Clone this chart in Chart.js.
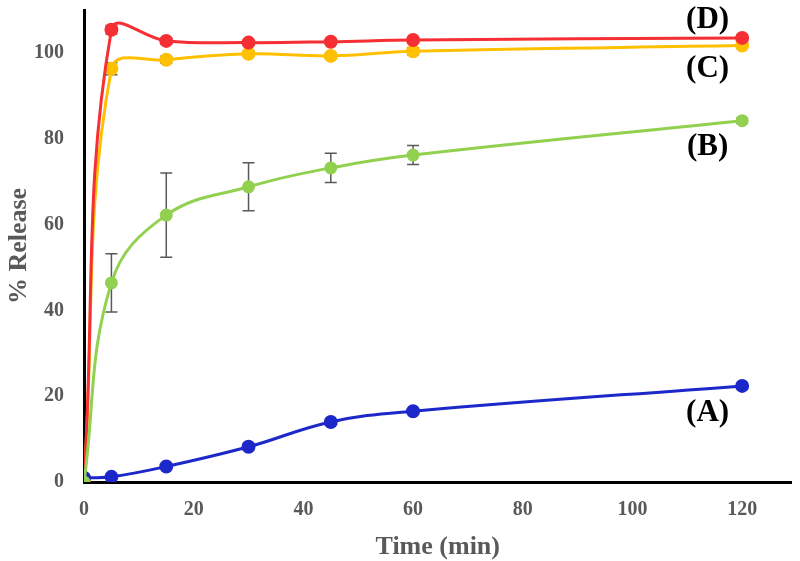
<!DOCTYPE html>
<html>
<head>
<meta charset="utf-8">
<script src="https://cdn.jsdelivr.net/npm/chart.js@4"></script>
<style>
  html, body { margin: 0; padding: 0; background: #fff; overflow: hidden; }
  #wrap { width: 800px; height: 561px; }
  canvas { display: block; }
</style>
</head>
<body>
<div id="wrap"><canvas id="releaseChart"></canvas></div>
<script>
// tempos de coleta (min)
const times = [0, 5, 15, 30, 45, 60, 120];

// % liberada por formulação
const seriesA = [1.0, 1.2, 3.6, 8.2, 14.0, 16.5, 22.4];
const seriesB = [0, 46.4, 62.2, 68.8, 73.2, 76.2, 84.2];
const seriesC = [0, 96.3, 98.4, 99.8, 99.3, 100.4, 101.7];
const seriesD = [0, 105.4, 102.8, 102.4, 102.6, 103.0, 103.5];

// desvio padrão (barras de erro)
const errA = [0, 0, 0, 0.8, 0, 0, 0];
const errB = [0, 6.8, 9.8, 5.6, 3.4, 2.2, 0.6];
const errC = [0, 1.4, 0.8, 0.6, 0.6, 0.8, 0.6];
const errD = [0, 1.0, 0.6, 0.5, 0.5, 0.5, 0.6];

const yTicks = [0, 20, 40, 60, 80, 100];
const xTicks = [0, 20, 40, 60, 80, 100, 120];

// rótulos das curvas: [texto, x, y]
const curveLabels = [
  ['(D)', 113.7, 107.6],
  ['(C)', 113.7, 96.2],
  ['(B)', 113.7, 78.0],
  ['(A)', 113.7, 16.1]
];

const toPoints = (vals) => vals.map((v, i) => ({ x: times[i], y: v }));

const errorBars = {
  id: 'errorBars',
  beforeDatasetsDraw(chart) {
    const { ctx, scales: { x, y } } = chart;
    ctx.save();
    ctx.strokeStyle = '#595959';
    ctx.lineWidth = 1.5;
    chart.data.datasets.forEach((ds) => {
      ds.errors.forEach((e, i) => {
        if (!e) return;
        const px = x.getPixelForValue(times[i]);
        const top = y.getPixelForValue(ds.data[i].y + e);
        const bot = y.getPixelForValue(ds.data[i].y - e);
        ctx.beginPath();
        ctx.moveTo(px, top); ctx.lineTo(px, bot);
        ctx.moveTo(px - 6, top); ctx.lineTo(px + 6, top);
        ctx.moveTo(px - 6, bot); ctx.lineTo(px + 6, bot);
        ctx.stroke();
      });
    });
    ctx.restore();
  },
  afterDatasetsDraw(chart) {
    const { ctx, scales: { x, y } } = chart;
    ctx.save();
    ctx.fillStyle = '#000';
    ctx.font = 'bold 31px "Liberation Serif", "Times New Roman", serif';
    ctx.textAlign = 'center';
    ctx.textBaseline = 'middle';
    curveLabels.forEach(([t, vx, vy]) => {
      ctx.fillText(t, x.getPixelForValue(vx), y.getPixelForValue(vy));
    });
    ctx.restore();
  }
};

const mkSet = (label, vals, errs, color, r) => ({
  label,
  data: toPoints(vals),
  errors: errs,
  borderColor: color,
  backgroundColor: color,
  borderWidth: 3,
  pointRadius: r,
  pointHoverRadius: r,
  tension: 0.4
});

const tickFont = { family: '"Liberation Serif", "Times New Roman", serif', size: 20, weight: 'bold' };
const titleFont = { family: '"Liberation Serif", "Times New Roman", serif', size: 26, weight: 'bold' };

new Chart(document.getElementById('releaseChart'), {
  type: 'line',
  data: {
    datasets: [
      mkSet('(B)', seriesB, errB, '#92D050', 5),
      mkSet('(A)', seriesA, errA, '#1C28C9', 5.5),
      mkSet('(D)', seriesD, errD, '#F52F33', 5.5),
      mkSet('(C)', seriesC, errC, '#FFC000', 5.5)
    ]
  },
  options: {
    responsive: true,
    maintainAspectRatio: false,
    animation: false,
    layout: { padding: { top: 10, right: 0, left: 0, bottom: 0 } },
    plugins: { legend: { display: false }, tooltip: { enabled: false } },
    scales: {
      x: {
        type: 'linear',
        min: 0,
        max: 129,
        afterBuildTicks: (axis) => { axis.ticks = xTicks.map(v => ({ value: v })); },
        afterFit: (axis) => {
          axis.height = 79;
          axis.paddingLeft = 0;
          axis.paddingRight = 0;
        },
        grid: { display: false, drawTicks: false },
        border: { display: true, color: '#000', width: 3 },
        ticks: { color: '#595959', font: tickFont, padding: 16, maxRotation: 0 },
        title: { display: true, text: 'Time (min)', color: '#595959', font: titleFont, padding: { top: 4, bottom: -2 } }
      },
      y: {
        min: 0,
        max: 110,
        afterBuildTicks: (axis) => { axis.ticks = yTicks.map(v => ({ value: v })); },
        afterFit: (axis) => {
          axis.width = 84;
          axis.paddingTop = 0;
          axis.paddingBottom = 0;
        },
        grid: { display: false, drawTicks: false },
        border: { display: true, color: '#000', width: 3 },
        ticks: { color: '#595959', font: tickFont, padding: 20 },
        title: { display: true, text: '% Release', color: '#595959', font: titleFont, padding: { bottom: 0 } }
      }
    }
  },
  plugins: [errorBars]
});
</script>
</body>
</html>
